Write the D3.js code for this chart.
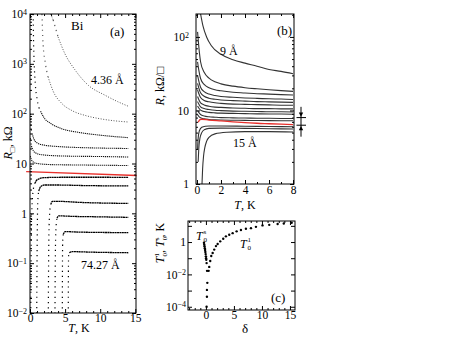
<!DOCTYPE html>
<html>
<head>
<meta charset="utf-8">
<script src="https://cdn.jsdelivr.net/npm/d3@7"></script>
<style>
  body { margin: 0; background: #fff; }
  svg { display: block; }
  text { font-family: "Liberation Serif", "Times New Roman", serif; font-size: 12px; fill: #000; }
</style>
</head>
<body>
<svg id="fig" width="471" height="345"></svg>
<script>
// ---- panel (a): R_sq (kOhm) vs T (K), Bi films, [T, R]
var a436 = [[2.95,1e4],[3.3,7600],[4.0,3470],[4.95,1620],[6.4,760],[8.3,372],[10.7,234],[12.5,174],[14,141]];
var a2 = [[1.7,1e4],[1.86,2570],[2.2,1000],[2.57,550],[3.3,282],[4.5,162],[6,115],[8,91],[10,79],[12,72],[14,68]];
var a3 = [[0.45,1e4],[0.5,3160],[0.6,1000],[0.75,400],[1.0,200],[1.5,112],[2,83],[3,63],[4.5,50],[7,42],[10,37],[14,33]];
var a4 = [[0.05,100],[0.15,56],[0.3,40],[0.6,30],[1,26],[2,23.4],[4,21.9],[7,20.9],[10,20.4],[14,20]];
var a5 = [[0.05,32],[0.2,22.4],[0.5,17.8],[1,15.8],[2,14.8],[5,14.1],[10,13.8],[14,13.5]];
var a6 = [[0.05,14.1],[0.3,11.2],[1,10],[3,9.5],[8,9.3],[14,9.1]];
var s1 = [[0.1,0.006],[0.15,0.1],[0.25,1.0],[0.35,2.0],[0.47,3.0],[0.7,4.0],[1,4.7],[2,5.2],[5,5.3],[10,5.3],[14,5.25]];
var s2 = [[0.95,0.006],[1.0,0.1],[1.05,0.63],[1.1,1.6],[1.25,2.8],[1.5,3.4],[2,3.7],[4,3.7],[8,3.6],[14,3.55]];
var s3 = [[2.6,0.006],[2.65,0.1],[2.7,0.4],[2.8,1.0],[2.95,1.5],[3.2,1.74],[4,1.74],[7,1.66],[14,1.58]];
var s4 = [[3.55,0.006],[3.6,0.1],[3.65,0.32],[3.72,0.56],[3.85,0.8],[4.1,0.89],[6,0.87],[10,0.85],[14,0.83]];
var s5 = [[4.6,0.006],[4.62,0.063],[4.65,0.25],[4.75,0.38],[5,0.43],[7,0.42],[14,0.41]];
var a7427 = [[5.45,0.006],[5.47,0.063],[5.5,0.14],[5.6,0.162],[6,0.17],[9,0.166],[14,0.162]];
var redA = [[-0.55,6.9],[15.2,5.75]];

// ---- panel (b): R (kOhm/sq) vs T (K)
var b9 = [[0.28,215],[0.5,141],[0.8,100],[1.2,76],[2,58],[3,49],[4,44],[5,40],[6,36],[7,34],[8,31.6]];
var b2 = [[0.05,117],[0.15,75],[0.3,46],[0.6,33],[1,27.5],[1.5,24.5],[2,23],[3,21.4],[4,20.4],[5,19.7],[6,19.1],[7,18.6],[8,18.2]];
var b3 = [[0.05,45.7],[0.15,35.6],[0.3,27.2],[0.6,22.6],[1,20.4],[1.5,19.1],[2,18.5],[3,17.7],[4,17.3],[5,16.9],[6,16.7],[7,16.4],[8,16.2]];
var b4 = [[0.05,30.2],[0.15,25.2],[0.3,20.7],[0.6,18.0],[1,16.7],[1.5,16.0],[2,15.5],[3,15.1],[4,14.8],[5,14.6],[6,14.4],[7,14.3],[8,14.1]];
var b5 = [[0.05,23.4],[0.15,20.3],[0.3,17.4],[0.6,15.6],[1,14.7],[1.5,14.2],[2,13.9],[3,13.6],[4,13.4],[5,13.2],[6,13.1],[7,13.0],[8,12.9]];
var b6 = [[0.05,19.1],[0.15,17.0],[0.3,15.0],[0.6,13.7],[1,13.1],[1.5,12.7],[2,12.5],[3,12.2],[4,12.1],[5,12.0],[6,11.9],[7,11.8],[8,11.75]];
var b7 = [[0.05,15.5],[0.15,14.1],[0.3,12.7],[0.6,11.9],[1,11.4],[1.5,11.1],[2,11.0],[3,10.8],[4,10.7],[5,10.6],[6,10.6],[7,10.5],[8,10.5]];
var b8 = [[0.05,13.2],[0.15,12.2],[0.3,11.2],[0.6,10.6],[1,10.3],[1.5,10.05],[2,9.95],[3,9.8],[4,9.75],[5,9.7],[6,9.6],[7,9.6],[8,9.55]];
var b9b = [[0.05,11.5],[0.15,10.8],[0.3,10.1],[0.6,9.66],[1,9.42],[1.5,9.28],[2,9.2],[3,9.12],[4,9.05],[5,9.0],[6,8.97],[7,8.95],[8,8.9]];
var b10 = [[0.05,10.0],[0.15,9.42],[0.3,8.81],[0.6,8.41],[1,8.2],[1.5,8.09],[2,8.0],[3,7.94],[4,7.89],[5,7.85],[6,7.82],[7,7.79],[8,7.76]];
var b11 = [[0.05,8.7],[0.15,8.34],[0.3,7.94],[0.6,7.69],[1,7.55],[1.5,7.46],[2,7.41],[3,7.36],[4,7.33],[5,7.3],[6,7.28],[7,7.26],[8,7.24]];
var b12 = [[0.05,2.9],[0.1,4.2],[0.2,5.3],[0.4,5.9],[0.7,6.1],[1,6.15],[2,6.15],[4,6.1],[6,6.05],[8,6.0]];
var b13 = [[0.1,2.0],[0.15,3.0],[0.25,4.2],[0.4,5.0],[0.6,5.45],[1,5.7],[2,5.75],[4,5.7],[6,5.65],[8,5.6]];
var b15 = [[0.42,1.0],[0.47,1.6],[0.55,2.4],[0.65,3.1],[0.8,3.8],[1,4.3],[1.5,4.8],[2.5,5.05],[4,5.15],[6,5.15],[8,5.1]];
var redB = [[0.1,6.9],[0.25,7.5],[0.4,7.6],[1,7.4],[2,7.2],[3,7.0],[4,6.85],[5,6.7],[6,6.6],[7,6.5],[8,6.4]];
var markLevels = [8.0, 6.3];
var markSpan = [11.2, 4.4];

// ---- panel (c): T0 (K) vs delta
var deltaS = [-0.35,-0.3,-0.25,-0.2,-0.15,-0.1,-0.05,0,0.03,0.06,0.12,0.2,0.25,0.18,0.18,0.12];
var t0s = [0.9,0.7,0.55,0.42,0.32,0.24,0.18,0.13,0.1,0.08,0.05,0.0166,0.003,0.0011,0.00042,0.0001];
var delta1 = [0.48,0.59,0.77,0.95,1.2,1.48,1.79,2.09,2.55,3.09,3.57,4.16,4.77,5.48,6.25,7.14,8.04,8.93,10.1,11.3,12.8,13.9,15.3];
var t01 = [0.0166,0.029,0.068,0.138,0.21,0.34,0.56,0.76,1.1,1.58,2.24,2.82,3.55,4.57,5.5,6.6,7.2,8.7,10.7,11.5,12.9,14.1,15.5];

var serif = '"Liberation Serif", "Times New Roman", serif';
var svg = d3.select("#fig");

function decades(lo, hi) {
  var out = [];
  for (var e = Math.round(Math.log10(lo)); e <= Math.round(Math.log10(hi)); e++) {
    var v = Math.pow(10, e);
    if (v >= lo * 0.999 && v <= hi * 1.001) out.push(v);
  }
  return out;
}
function minorLog(lo, hi) {
  var out = [];
  for (var e = Math.floor(Math.log10(lo)); e <= Math.ceil(Math.log10(hi)); e++)
    for (var m = 2; m <= 9; m++) {
      var v = m * Math.pow(10, e);
      if (v >= lo && v <= hi) out.push(v);
    }
  return out;
}
function powLabel(sel, skipOdd) {
  sel.selectAll(".tick text").each(function (d) {
    var e = Math.round(Math.log10(d));
    var t = d3.select(this).text("");
    if (skipOdd && e % 2 !== 0) return;
    if (e === 0) t.text("1");
    else if (e === 1) t.text("10");
    else {
      t.append("tspan").text("10");
      t.append("tspan").attr("dy", "-0.45em").style("font-size", "8px")
        .text(e < 0 ? "\u2212" + (-e) : e);
    }
  });
}

// frame with inward ticks on all four sides
function frame(x, y, o) {
  var g = svg.append("g");
  var x0 = x.range()[0], x1 = x.range()[1], yb = y.range()[0], yt = y.range()[1];
  g.append("g").attr("transform", "translate(0," + yb + ")")
    .call(d3.axisBottom(x).tickValues(o.xMajor).tickSize(-4).tickPadding(o.xPad).tickFormat(d3.format("d")));
  g.append("g").attr("transform", "translate(0," + yb + ")")
    .call(d3.axisBottom(x).tickValues(o.xMinor).tickSize(-2).tickFormat(""));
  g.append("g").attr("transform", "translate(0," + yt + ")")
    .call(d3.axisTop(x).tickValues(o.xMajor).tickSize(-4).tickFormat(""));
  g.append("g").attr("transform", "translate(0," + yt + ")")
    .call(d3.axisTop(x).tickValues(o.xMinor).tickSize(-2).tickFormat(""));
  var left = g.append("g").attr("transform", "translate(" + x0 + ",0)")
    .call(d3.axisLeft(y).tickValues(o.yMajor).tickSize(-4).tickPadding(o.yPad));
  powLabel(left, o.skipOdd);
  g.append("g").attr("transform", "translate(" + x0 + ",0)")
    .call(d3.axisLeft(y).tickValues(o.yMinor).tickSize(-2).tickFormat(""));
  g.append("g").attr("transform", "translate(" + x1 + ",0)")
    .call(d3.axisRight(y).tickValues(o.yMajor).tickSize(-4).tickFormat(""));
  g.append("g").attr("transform", "translate(" + x1 + ",0)")
    .call(d3.axisRight(y).tickValues(o.yMinor).tickSize(-2).tickFormat(""));
  g.selectAll(".domain").remove();
  g.selectAll(".tick line").attr("stroke", "#000");
  g.selectAll(".tick text").style("font-size", "11.5px");
  g.append("rect").attr("x", x0).attr("y", yt).attr("width", x1 - x0).attr("height", yb - yt)
    .attr("fill", "none").attr("stroke", "#000").attr("stroke-width", 1);
  return g;
}
function clipFor(id, x, y) {
  svg.append("clipPath").attr("id", id).append("rect")
    .attr("x", x.range()[0]).attr("y", y.range()[1])
    .attr("width", x.range()[1] - x.range()[0]).attr("height", y.range()[0] - y.range()[1]);
  return svg.append("g").attr("clip-path", "url(#" + id + ")");
}

// ================= (a)
var xA = d3.scaleLinear().domain([0, 15.1]).range([30, 136]);
var yA = d3.scaleLog().domain([1e-2, 1e4]).range([313, 14]);
var gA = clipFor("clipA", xA, yA);

// measured points: steep parts look like sparse dots
function dotted(g, pts, style) {
  var p = pts.map(function (d) { return [xA(d[0]), yA(d[1])]; });
  var runs = [], cur = [p[0]], steepNow = null;
  for (var i = 1; i < p.length; i++) {
    var steep = Math.abs(p[i][1] - p[i - 1][1]) > 3 * Math.abs(p[i][0] - p[i - 1][0]);
    if (steepNow === null || steep === steepNow) { cur.push(p[i]); steepNow = steep; }
    else { runs.push({ p: cur, steep: steepNow }); cur = [p[i - 1], p[i]]; steepNow = steep; }
  }
  runs.push({ p: cur, steep: steepNow });
  runs.forEach(function (r) {
    g.append("path").attr("d", d3.line().curve(d3.curveMonotoneX)(r.p))
      .attr("fill", "none").attr("stroke", style.color)
      .attr("stroke-width", r.steep ? 1.2 : style.width)
      .attr("stroke-dasharray", r.steep ? "1.2,4" : style.dash);
  });
}
var light = { color: "#555", width: 1, dash: "1,1.6" };
var mid = { color: "#111", width: 1.1, dash: "1.2,0.8" };
var heavy = { color: "#000", width: 1.3, dash: "2,0.4" };
[a436, a2].forEach(function (c) { dotted(gA, c, light); });
[a3, a4, a5, a6].forEach(function (c) { dotted(gA, c, mid); });
[s1, s2, s3, s4, s5, a7427].forEach(function (c) { dotted(gA, c, heavy); });

svg.append("path").attr("d", d3.line().x(function (d) { return xA(d[0]); }).y(function (d) { return yA(d[1]); })(redA))
  .attr("fill", "none").attr("stroke", "#e8302c").attr("stroke-width", 1.3);

frame(xA, yA, {
  xMajor: [0, 5, 10, 15], xMinor: d3.range(1, 15).filter(function (v) { return v % 5; }), xPad: 1,
  yMajor: decades(1e-2, 1e4), yMinor: minorLog(1e-2, 1e4), yPad: 3
});

svg.append("text").attr("x", 71).attr("y", 30).style("font-size", "13px").text("Bi");
svg.append("text").attr("x", 110).attr("y", 36).style("font-size", "13px").text("(a)");
svg.append("text").attr("x", 91).attr("y", 84).text("4.36 \u00c5");
svg.append("text").attr("x", 81).attr("y", 269).text("74.27 \u00c5");
var tA = svg.append("text").attr("x", 79).attr("y", 332).attr("text-anchor", "middle");
tA.append("tspan").style("font-style", "italic").text("T");
tA.append("tspan").text(", K");
var rA = svg.append("text").attr("transform", "translate(12,143) rotate(-90)").attr("text-anchor", "middle");
rA.append("tspan").style("font-style", "italic").text("R");
rA.append("tspan").attr("dy", 3).style("font-size", "8px").text("\u25a1");
rA.append("tspan").attr("dy", -3).text(", k\u03a9");

// ================= (b)
var xB = d3.scaleLinear().domain([-0.08, 8.08]).range([196, 294]);
var yB = d3.scaleLog().domain([1, 205]).range([184, 14]);
var gB = clipFor("clipB", xB, yB);
var lineB = d3.line().curve(d3.curveMonotoneX)
  .x(function (d) { return xB(d[0]); }).y(function (d) { return yB(d[1]); });
[b9, b2, b3, b4, b5, b6, b7, b8, b9b, b10, b11, b12, b13, b15].forEach(function (c) {
  gB.append("path").attr("d", lineB(c)).attr("fill", "none")
    .attr("stroke", "#333").attr("stroke-width", 1.1);
});
gB.append("path").attr("d", lineB(redB)).attr("fill", "none")
  .attr("stroke", "#e8302c").attr("stroke-width", 1.3);

frame(xB, yB, {
  xMajor: [0, 2, 4, 6, 8], xMinor: [1, 3, 5, 7], xPad: 2,
  yMajor: decades(1, 205), yMinor: minorLog(1, 205), yPad: 7
});

// critical-resistance marker at the right of (b)
var mx = 301;
svg.append("line").attr("x1", mx).attr("x2", mx)
  .attr("y1", yB(markSpan[0])).attr("y2", yB(markSpan[1])).attr("stroke", "#000");
markLevels.forEach(function (v, i) {
  var yy = yB(v);
  svg.append("line").attr("x1", mx - 4.5).attr("x2", mx + 5).attr("y1", yy).attr("y2", yy).attr("stroke", "#000");
  var s = i === 0 ? -1 : 1;
  svg.append("path").attr("d", "M" + (mx - 2.2) + "," + (yy + s * 5) + "L" + (mx + 2.2) + "," + (yy + s * 5) + "L" + mx + "," + (yy + s * 0.8) + "Z")
    .attr("fill", "#000");
});

svg.append("text").attr("x", 277).attr("y", 35).style("font-size", "13px").text("(b)");
svg.append("text").attr("x", 220).attr("y", 55).text("9 \u00c5");
svg.append("text").attr("x", 233).attr("y", 147).text("15 \u00c5");
var tB = svg.append("text").attr("x", 245).attr("y", 209).attr("text-anchor", "middle");
tB.append("tspan").style("font-style", "italic").text("T");
tB.append("tspan").text(", K");
var rB = svg.append("text").attr("transform", "translate(164,86) rotate(-90)").attr("text-anchor", "middle");
rB.append("tspan").style("font-style", "italic").text("R");
rB.append("tspan").text(", k\u03a9/\u25a1");

// ================= (c)
var xC = d3.scaleLinear().domain([-3.2, 15.9]).range([188, 295]);
var yC = d3.scaleLog().domain([Math.pow(10, -4.2), Math.pow(10, 1.3)]).range([310, 221]);
var gC = clipFor("clipC", xC, yC);
var ptsC = deltaS.map(function (d, i) { return [d, t0s[i]]; })
  .concat(delta1.map(function (d, i) { return [d, t01[i]]; }));
gC.selectAll("circle").data(ptsC).enter().append("circle")
  .attr("cx", function (d) { return xC(d[0]); })
  .attr("cy", function (d) { return yC(d[1]); })
  .attr("r", 1.2).attr("fill", "#000");

frame(xC, yC, {
  xMajor: [0, 5, 10, 15], xMinor: d3.range(-3, 16).filter(function (v) { return v % 5; }), xPad: 1,
  yMajor: decades(1e-4, 10), yMinor: [], yPad: 2, skipOdd: true
});

svg.append("text").attr("x", 271).attr("y", 302).style("font-size", "13px").text("(c)");
function tLabel(x, y, sup) {
  svg.append("text").attr("x", x).attr("y", y).style("font-style", "italic").text("T");
  svg.append("text").attr("x", x + 7.5).attr("y", y - 6).style("font-size", "7px").text(sup);
  svg.append("text").attr("x", x + 7.5).attr("y", y + 2).style("font-size", "7px").text("0");
}
tLabel(196, 240, "s");
tLabel(240, 248, "1");
svg.append("text").attr("x", 245).attr("y", 333).attr("text-anchor", "middle").style("font-size", "13px").text("\u03b4");
var rC = svg.append("text").attr("transform", "translate(164,243) rotate(-90)").attr("text-anchor", "middle");
rC.append("tspan").style("font-style", "italic").text("T");
rC.append("tspan").attr("dy", 3).style("font-size", "7px").text("0");
rC.append("tspan").attr("dx", -3.5).attr("dy", -8).style("font-size", "7px").text("1");
rC.append("tspan").attr("dy", 5).text(", ");
rC.append("tspan").style("font-style", "italic").text("T");
rC.append("tspan").attr("dy", 3).style("font-size", "7px").text("0");
rC.append("tspan").attr("dx", -3.5).attr("dy", -8).style("font-size", "7px").text("s");
rC.append("tspan").attr("dy", 5).text(", K");

// every label in the serif face
svg.selectAll("text").style("font-family", serif);
</script>
</body>
</html>
